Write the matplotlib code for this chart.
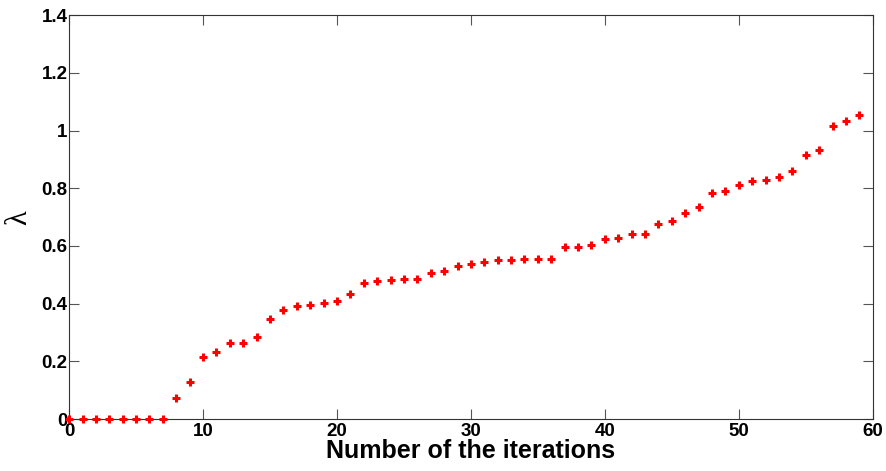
import numpy as np
import matplotlib.pyplot as plt

# iteration index and lambda values
iterations = list(range(60))
lam = [0.0, 0.0, 0.0, 0.0, 0.0, 0.0, 0.0, 0.0,
       0.073, 0.13, 0.216, 0.232, 0.264, 0.264, 0.285, 0.346,
       0.38, 0.392, 0.395, 0.402, 0.408, 0.433, 0.471, 0.478,
       0.482, 0.484, 0.486, 0.505, 0.513, 0.531, 0.538, 0.546,
       0.55, 0.552, 0.554, 0.554, 0.554, 0.595, 0.598, 0.602,
       0.624, 0.626, 0.64, 0.64, 0.676, 0.687, 0.715, 0.735,
       0.784, 0.79, 0.813, 0.825, 0.827, 0.84, 0.859, 0.914,
       0.934, 1.014, 1.033, 1.053]

xticks = [0, 10, 20, 30, 40, 50, 60]
yticks = [0, 0.2, 0.4, 0.6, 0.8, 1.0, 1.2, 1.4]
yticklabels = ['0', '0.2', '0.4', '0.6', '0.8', '1', '1.2', '1.4']

plt.rcParams['font.family'] = ['Liberation Sans', 'DejaVu Sans']

fig = plt.figure(figsize=(8.86, 4.71), dpi=100)
ax = fig.add_axes([0.078, 0.110, 0.907, 0.858])

ax.plot(iterations, lam, '+', color='#ff0000', markersize=6, markeredgewidth=2.2,
        clip_on=False, zorder=3)

ax.set_xlim(0, 60)
ax.set_ylim(0, 1.4)
ax.set_xticks(xticks)
ax.set_xticklabels([str(t) for t in xticks], fontsize=13.5, fontweight='bold')
ax.set_yticks(yticks)
ax.set_yticklabels(yticklabels, fontsize=13.5, fontweight='bold')

ax.tick_params(direction='in', length=7, width=0.8, color='#555555',
               top=True, right=True)
ax.tick_params(axis='x', pad=3)
ax.tick_params(axis='y', pad=1)
for s in ax.spines.values():
    s.set_color('#333333')
    s.set_linewidth(0.8)

ax.set_xlabel('Number of the iterations', fontsize=18, fontweight='bold', labelpad=-1)
ax.set_ylabel('λ', fontsize=22, labelpad=6, family=['Liberation Serif', 'DejaVu Serif'])

fig.savefig('out.png', dpi=100)
